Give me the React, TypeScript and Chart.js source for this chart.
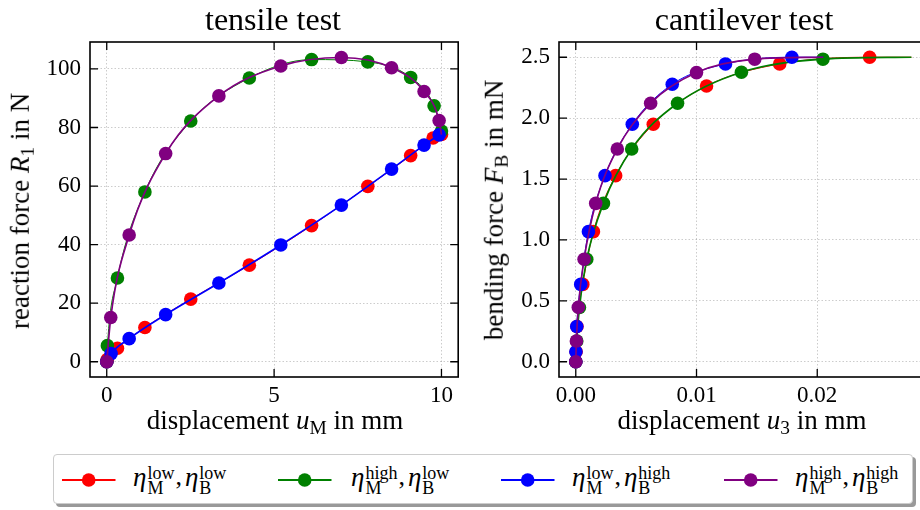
import React, { useEffect, useRef } from "react";
import { Chart, registerables } from "chart.js";

Chart.register(...registerables);

const FONT = "'Liberation Serif', 'Times New Roman', serif";

// ---------- tensile test (x: displacement u_M in mm, y: reaction force R_1 in N) ----------
const tensileRedX = [0, 0.02, 0.32, 1.14, 2.51, 4.26, 6.12, 7.8, 9.08, 9.75, 10.0];
const tensileRedY = [0, 0.8, 4.6, 11.7, 21.4, 33.0, 46.5, 59.9, 70.4, 76.4, 77.6];
const tensileGreenX = [0, 0.02, 0.32, 1.14, 2.51, 4.26, 6.12, 7.8, 9.08, 9.78, 10.0];
const tensileGreenY = [0, 5.5, 28.6, 58.0, 82.2, 96.9, 103.2, 102.4, 97.1, 87.4, 78.8];
const tensileBlueX = [0, 0.13, 0.67, 1.76, 3.35, 5.2, 7.01, 8.51, 9.48, 9.93];
const tensileBlueY = [0, 2.8, 7.9, 16.1, 26.9, 39.9, 53.5, 65.8, 74.0, 77.5];
const tensilePurpleX = [0, 0.12, 0.67, 1.76, 3.35, 5.2, 7.01, 8.51, 9.48, 9.93];
const tensilePurpleY = [0, 15.1, 43.3, 71.1, 90.8, 101.0, 103.9, 100.4, 92.3, 82.4];
const tensilePurpleTail = [10.0, 77.6];

// ---------- cantilever test (x: displacement u_3 in mm, y: bending force F_B in mN) ----------
const cantRedX = [0, 0.00003, 0.0001, 0.00058, 0.00146, 0.0033, 0.00642, 0.01083, 0.01689, 0.02434];
const cantRedY = [0, 0.082, 0.29, 0.635, 1.068, 1.528, 1.95, 2.264, 2.445, 2.5];
const cantRedTail = [0.0278, 2.5];
const cantGreenX = [0, 0.00008, 0.0003, 0.00091, 0.00229, 0.00463, 0.00843, 0.01372, 0.02047];
const cantGreenY = [0, 0.17, 0.445, 0.842, 1.3, 1.747, 2.122, 2.377, 2.484];
const cantGreenTail = [0.0278, 2.5];
const cantBlueX = [0, 0.00001, 0.00008, 0.00041, 0.00105, 0.00242, 0.00468, 0.00799, 0.0124, 0.0179];
const cantBlueY = [0, 0.082, 0.29, 0.635, 1.068, 1.528, 1.95, 2.278, 2.445, 2.5];
const cantBlueTail = [0.0205, 2.5];
const cantPurpleX = [0, 0.00005, 0.00021, 0.00069, 0.00165, 0.00344, 0.0062, 0.01, 0.01482];
const cantPurpleY = [0, 0.17, 0.448, 0.842, 1.3, 1.747, 2.122, 2.374, 2.484];
const cantPurpleTail = [0.0205, 2.5];

// axis ranges and ticks
const tensileXRange = [-0.5, 10.5];
const tensileYRange = [-5.2, 109.2];
const tensileXStep = 5;
const tensileYStep = 20;
const cantXRange = [-0.00139, 0.02919];
const cantYRange = [-0.125, 2.625];
const cantXStep = 0.01;
const cantYStep = 0.5;

// series (legend order)
const seriesColors = ["#ff0000", "#008000", "#0000ff", "#800080"];
const seriesEtaM = ["low", "high", "low", "high"];
const seriesEtaB = ["low", "low", "high", "high"];

const MARKER_R = 6.8;

function buildDataset(
  xs: number[],
  ys: number[],
  tail: number[] | null,
  color: string,
  order: number,
  lineWidth: number
) {
  const data = xs.map((x, i) => ({ x, y: ys[i] }));
  const radius = xs.map(() => MARKER_R);
  if (tail) {
    data.push({ x: tail[0], y: tail[1] });
    radius.push(0);
  }
  return {
    data,
    borderColor: color,
    backgroundColor: color,
    pointBackgroundColor: color,
    pointBorderColor: color,
    pointBorderWidth: 0,
    pointRadius: radius,
    pointHoverRadius: radius,
    borderWidth: lineWidth,
    cubicInterpolationMode: "monotone",
    fill: false,
    order,
  };
}

const framePlugin = {
  id: "frameTicks",
  afterDraw(chart: any) {
    const { ctx, chartArea: a, scales } = chart;
    const L = 8;
    ctx.save();
    ctx.strokeStyle = "#000";
    ctx.lineWidth = 1.3;
    ctx.beginPath();
    scales.x.ticks.forEach((t: any) => {
      const px = scales.x.getPixelForValue(t.value);
      ctx.moveTo(px, a.bottom);
      ctx.lineTo(px, a.bottom - L);
      ctx.moveTo(px, a.top);
      ctx.lineTo(px, a.top + L);
    });
    scales.y.ticks.forEach((t: any) => {
      const py = scales.y.getPixelForValue(t.value);
      ctx.moveTo(a.left, py);
      ctx.lineTo(a.left + L, py);
      ctx.moveTo(a.right, py);
      ctx.lineTo(a.right - L, py);
    });
    ctx.stroke();
    ctx.lineWidth = 1.6;
    ctx.strokeRect(a.left, a.top, a.right - a.left, a.bottom - a.top);
    ctx.restore();
  },
};

function makeConfig(opts: {
  datasets: any[];
  xRange: number[];
  yRange: number[];
  xStep: number;
  yStep: number;
  xFmt: (v: number) => string;
  yFmt: (v: number) => string;
  yWidth: number;
  xHeight: number;
  padRight: number;
}) {
  const tickFont = { family: FONT, size: 23 };
  const grid = { color: "rgba(0,0,0,0.25)", lineWidth: 0.8, drawTicks: false };
  const border = { display: false, dash: [1.5, 2] };
  return {
    type: "line",
    data: { datasets: opts.datasets },
    options: {
      responsive: false,
      animation: false,
      events: [],
      layout: { padding: { top: 42, right: opts.padRight, left: 0, bottom: 0 } },
      plugins: { legend: { display: false }, tooltip: { enabled: false }, title: { display: false } },
      scales: {
        x: {
          type: "linear",
          min: opts.xRange[0],
          max: opts.xRange[1],
          afterFit: (s: any) => {
            s.height = opts.xHeight;
          },
          ticks: {
            stepSize: opts.xStep,
            includeBounds: false,
            autoSkip: false,
            maxRotation: 0,
            padding: 5,
            color: "#000",
            font: tickFont,
            callback: (v: any) => opts.xFmt(Number(v)),
          },
          grid,
          border,
        },
        y: {
          type: "linear",
          min: opts.yRange[0],
          max: opts.yRange[1],
          afterFit: (s: any) => {
            s.width = opts.yWidth;
          },
          ticks: {
            stepSize: opts.yStep,
            includeBounds: false,
            autoSkip: false,
            padding: 9,
            color: "#000",
            font: tickFont,
            callback: (v: any) => opts.yFmt(Number(v)),
          },
          grid,
          border,
        },
      },
    },
    plugins: [framePlugin],
  };
}

function ChartCanvas({ config, left, width, height }: any) {
  const ref = useRef<HTMLCanvasElement | null>(null);
  useEffect(() => {
    const chart = new Chart(ref.current as HTMLCanvasElement, config);
    let alive = true;
    const fonts: any = (document as any).fonts;
    if (fonts && fonts.load) {
      Promise.all([
        fonts.load("23px 'Liberation Serif'"),
        fonts.load("italic 23px 'Liberation Serif'"),
      ])
        .then(() => {
          if (alive) chart.update();
        })
        .catch(() => {});
    }
    return () => {
      alive = false;
      chart.destroy();
    };
  }, []);
  return (
    <canvas
      ref={ref}
      width={width}
      height={height}
      style={{ position: "absolute", left, top: 0, width, height }}
    />
  );
}

function Eta({ sup, sub }: { sup: string; sub: string }) {
  return (
    <span style={{ display: "inline-flex", alignItems: "flex-start" }}>
      <span style={{ fontStyle: "italic", fontSize: 27, lineHeight: "26px" }}>η</span>
      <span
        style={{
          display: "inline-flex",
          flexDirection: "column",
          fontSize: 18,
          lineHeight: "15px",
          marginTop: 2,
          marginLeft: 1,
        }}
      >
        <span>{sup}</span>
        <span>{sub}</span>
      </span>
    </span>
  );
}

const abs = (extra: any): any => ({ position: "absolute", whiteSpace: "nowrap", ...extra });
const subStyle: any = { fontSize: "0.72em", verticalAlign: "-0.28em", fontStyle: "normal" };

const tensileConfig = makeConfig({
  datasets: [
    buildDataset(tensileRedX, tensileRedY, null, seriesColors[0], 4, 1.0),
    buildDataset(tensileGreenX, tensileGreenY, null, seriesColors[1], 3, 1.0),
    buildDataset(tensileBlueX, tensileBlueY, null, seriesColors[2], 2, 1.7),
    buildDataset(tensilePurpleX, tensilePurpleY, tensilePurpleTail, seriesColors[3], 1, 1.7),
  ],
  xRange: tensileXRange,
  yRange: tensileYRange,
  xStep: tensileXStep,
  yStep: tensileYStep,
  xFmt: (v) => String(Math.round(v)),
  yFmt: (v) => String(Math.round(v)),
  yWidth: 90,
  xHeight: 63,
  padRight: 5,
});

const cantConfig = makeConfig({
  datasets: [
    buildDataset(cantRedX, cantRedY, cantRedTail, seriesColors[0], 4, 1.0),
    buildDataset(cantGreenX, cantGreenY, cantGreenTail, seriesColors[1], 3, 1.7),
    buildDataset(cantBlueX, cantBlueY, cantBlueTail, seriesColors[2], 2, 1.0),
    buildDataset(cantPurpleX, cantPurpleY, cantPurpleTail, seriesColors[3], 1, 1.7),
  ],
  xRange: cantXRange,
  yRange: cantYRange,
  xStep: cantXStep,
  yStep: cantYStep,
  xFmt: (v) => v.toFixed(2),
  yFmt: (v) => v.toFixed(1),
  yWidth: 99,
  xHeight: 63,
  padRight: 5,
});

const legendLineX = [61.7, 277.7, 500.7, 724];
const legendTextX = [133, 351, 572, 795];

export default function App() {
  return (
    <div
      style={{
        position: "absolute",
        left: 0,
        top: 0,
        width: 920,
        height: 510,
        overflow: "hidden",
        background: "#fff",
        fontFamily: FONT,
        color: "#000",
      }}
    >
      <ChartCanvas config={tensileConfig} left={0} width={465} height={440} />
      <ChartCanvas config={cantConfig} left={460} width={475} height={440} />

      {/* titles */}
      <div style={abs({ left: 273, top: 3, transform: "translateX(-50%)", fontSize: 32, lineHeight: "32px" })}>
        tensile test
      </div>
      <div style={abs({ left: 744, top: 3, transform: "translateX(-50%)", fontSize: 32, lineHeight: "32px" })}>
        cantilever test
      </div>

      {/* x axis titles */}
      <div style={abs({ left: 275, top: 407, transform: "translateX(-50%)", fontSize: 27, lineHeight: "27px" })}>
        displacement <i>u</i>
        <span style={subStyle}>M</span> in mm
      </div>
      <div style={abs({ left: 742, top: 407, transform: "translateX(-50%)", fontSize: 27, lineHeight: "27px" })}>
        displacement <i>u</i>
        <span style={subStyle}>3</span> in mm
      </div>

      {/* y axis titles */}
      <div
        style={abs({
          left: 24,
          top: 211,
          transform: "translate(-50%, -50%) rotate(-90deg)",
          fontSize: 27,
          lineHeight: "27px",
        })}
      >
        reaction force <i>R</i>
        <span style={subStyle}>1</span> in N
      </div>
      <div
        style={abs({
          left: 498,
          top: 210,
          transform: "translate(-50%, -50%) rotate(-90deg)",
          fontSize: 27,
          lineHeight: "27px",
        })}
      >
        bending force <i>F</i>
        <span style={subStyle}>B</span> in mN
      </div>

      {/* legend */}
      <div
        style={abs({
          left: 52.5,
          top: 454,
          width: 860,
          height: 50,
          border: "1px solid #cccccc",
          borderRadius: 4,
          boxShadow: "3px 3px 0 #999999",
          background: "#fff",
          boxSizing: "border-box",
        })}
      />
      {seriesColors.map((c, i) => (
        <React.Fragment key={i}>
          <svg style={abs({ left: legendLineX[i], top: 471.7 })} width={54} height={16}>
            <line x1={0} y1={8} x2={53.5} y2={8} stroke={c} strokeWidth={1.8} />
            <circle cx={26.7} cy={8} r={MARKER_R} fill={c} />
          </svg>
          <div style={abs({ left: legendTextX[i], top: 464, display: "flex", alignItems: "flex-start" })}>
            <Eta sup={seriesEtaM[i]} sub="M" />
            <span style={{ fontSize: 26, lineHeight: "26px", margin: "0 3px 0 1px" }}>,</span>
            <Eta sup={seriesEtaB[i]} sub="B" />
          </div>
        </React.Fragment>
      ))}
    </div>
  );
}
